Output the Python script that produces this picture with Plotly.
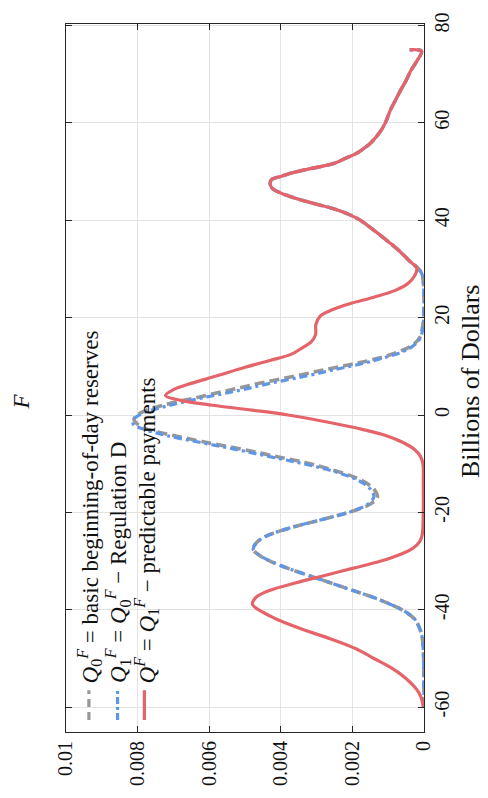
import plotly.graph_objects as go

# ---------------- data (density vs. billions of dollars) ----------------
# Shared upper tail (all three series coincide above ~30 bn)
billions_tail = [31.4, 32.7, 34.1, 35.5, 36.8, 38.5, 40, 41.2, 42.3, 43.3, 44.3, 45.3,
                 46.3, 47, 47.7, 48.4, 49, 49.7, 50.4, 51, 51.7, 52.7, 53.8, 54.8,
                 55.8, 57.8, 60, 62.6, 64.6, 66.6, 68.7, 70.7, 72.7, 74.7, 75.0]
density_tail = [0.00037, 0.00055, 0.00075, 0.00098, 0.0012, 0.0015, 0.00178, 0.0021,
                0.0025, 0.003, 0.0035, 0.0039, 0.0042, 0.00428, 0.0043, 0.00425, 0.0040,
                0.0037, 0.0033, 0.0029, 0.0025, 0.0022, 0.00187, 0.00167, 0.0015,
                0.00126, 0.00108, 0.00094, 0.0008, 0.00066, 0.0005, 0.00037, 0.0002,
                0.00007, 0.0004]

# Q^F = Q1^F - predictable payments (red)
billions_red = [-60, -58, -56.4, -54, -52, -50, -48, -46, -44, -42, -40.5, -38.9, -37.5,
                -36, -34.5, -33, -31.5, -30, -28.6, -27.3, -26, -24.6, -20, -14, -10,
                -8.5, -7, -5.6, -4.3, -3, -1.6, 0, 1, 2, 3, 4, 5.2, 6.5, 8, 9.8, 11.2,
                12.5, 13.8, 15, 16.5, 18.6, 20.3, 21.5, 22.8, 24.2, 25.6, 27, 28.5, 30.1]
density_red = [0.00002, 0.00008, 0.0002, 0.00052, 0.0009, 0.0014, 0.0019, 0.0026,
               0.0034, 0.0041, 0.0045, 0.00479, 0.0047, 0.0043, 0.0036, 0.0028, 0.0020,
               0.0012, 0.00065, 0.0003, 0.00012, 0.00005, 0.00002, 0.00002, 0.00003,
               0.0001, 0.00028, 0.0006, 0.00103, 0.0017, 0.0026, 0.0038, 0.0048, 0.0059,
               0.0068, 0.00722, 0.0070, 0.0065, 0.0058, 0.0050, 0.0043, 0.0037, 0.0034,
               0.00315, 0.00303, 0.00302, 0.0029, 0.0026, 0.0021, 0.0014, 0.0008,
               0.00045, 0.00027, 0.0002]

# Q1^F = Q0^F - Regulation D (blue)
billions_blue = [-60, -55, -50, -47, -45, -43.5, -42, -40.5, -39, -37.5, -36, -34.5,
                 -33, -31.5, -30, -28.8, -27.6, -26.4, -25.2, -24, -22.5, -21, -19.5,
                 -18.2, -16.8, -15.4, -14, -12.6, -11.2, -9.8, -8.4, -7, -5.6, -4.2,
                 -3, -1.9, -0.8, 0.5, 2, 3.5, 5, 6.5, 8, 9.4, 10.6, 11.8, 13, 14.2, 15.9,
                 18.6, 24, 27.4, 29, 30.1]
density_blue = [0, 0.000005, 0.00001, 0.00003, 0.00007, 0.00014, 0.00025, 0.0005,
                0.0009, 0.0014, 0.002, 0.0026, 0.0032, 0.0038, 0.0043, 0.0046, 0.00477,
                0.0047, 0.0045, 0.0041, 0.0034, 0.0026, 0.0019, 0.00155, 0.0014, 0.00148,
                0.0017, 0.0021, 0.0027, 0.0035, 0.0044, 0.0053, 0.00627, 0.0072, 0.0078,
                0.00812, 0.0081, 0.0078, 0.0071, 0.0062, 0.0052, 0.0043, 0.0033, 0.00245,
                0.0017, 0.0011, 0.0006, 0.0003, 0.0001, 0.00002, 0.0, 0.00002, 0.00006,
                0.00016]

# Q0^F = basic beginning-of-day reserves (gray)
billions_gray = [-60, -55, -50, -47, -45, -43.5, -42, -40.5, -39, -37.5, -36, -34.5,
                 -33, -31.5, -30, -28.8, -27.6, -26.4, -25.2, -24, -22.5, -21, -19.5,
                 -18.2, -16.8, -15.4, -14, -12.6, -11.2, -9.8, -8.4, -7, -5.6, -4.2,
                 -3, -1.9, -0.8, 0.5, 2, 3.5, 5, 6.5, 8, 9.4, 10.6, 11.8, 13, 14.2, 15.9,
                 18.6, 24, 27.4, 29, 30.1]
density_gray = [0, 0.000005, 0.00001, 0.00003, 0.00007, 0.00014, 0.00025, 0.0005,
                0.0009, 0.0014, 0.002, 0.0026, 0.0032, 0.0038, 0.0043, 0.0046, 0.00477,
                0.0047, 0.0045, 0.0041, 0.0034, 0.0026, 0.0019, 0.00148, 0.0013, 0.00138,
                0.0016, 0.002, 0.0026, 0.0033, 0.0042, 0.0051, 0.0061, 0.0070, 0.0077,
                0.0080, 0.0081, 0.0079, 0.0073, 0.0064, 0.0055, 0.0046, 0.0036, 0.0027,
                0.0019, 0.0012, 0.0007, 0.00035, 0.00012, 0.00003, 0.0, 0.00002, 0.00006,
                0.00016]

series_names = ["Q0 = basic beginning-of-day reserves",
                "Q1 = Q0 - Regulation D",
                "Q = Q1 - predictable payments"]
legend_labels = ["<i>Q</i><sub>0</sub><sup><i>F</i></sup> = basic beginning-of-day reserves",
                 "<i>Q</i><sub>1</sub><sup><i>F</i></sup> = <i>Q</i><sub>0</sub><sup><i>F</i></sup> − Regulation D",
                 "<i>Q</i><sup><i>F</i></sup> = <i>Q</i><sub>1</sub><sup><i>F</i></sup> − predictable payments"]

density_ticks = [0, 0.002, 0.004, 0.006, 0.008, 0.01]
density_ticktext = ["0", "0.002", "0.004", "0.006", "0.008", "0.01"]
billions_ticks = [-60, -40, -20, 0, 20, 40, 60, 80]
billions_ticktext = ["-60", "-40", "-20", "0", "20", "40", "60", "80"]

GRAY = "#979797"
BLUE = "#6096E6"
RED = "#E4646A"
FONT = "Liberation Serif"

fig = go.Figure()
fig.add_trace(go.Scatter(x=density_gray + density_tail, y=billions_gray + billions_tail,
                         mode="lines", name=series_names[0], showlegend=False,
                         line=dict(color=GRAY, width=3.6, dash="10px,5px",
                                   shape="spline", smoothing=1.0)))
fig.add_trace(go.Scatter(x=density_blue + density_tail, y=billions_blue + billions_tail,
                         mode="lines", name=series_names[1], showlegend=False,
                         line=dict(color=BLUE, width=3.2, dash="8px,4px,3px,4px",
                                   shape="spline", smoothing=1.0)))
fig.add_trace(go.Scatter(x=density_red + density_tail, y=billions_red + billions_tail,
                         mode="lines", name=series_names[2], showlegend=False,
                         line=dict(color=RED, width=3.2, shape="spline", smoothing=1.0)))

axis_common = dict(showgrid=True, gridcolor="#e3e3e3", gridwidth=1,
                   showline=True, linecolor="#262626", linewidth=1.2, mirror="ticks",
                   ticks="inside", ticklen=6, tickcolor="#262626", tickwidth=1.2,
                   zeroline=False, tickangle=-90,
                   tickfont=dict(family=FONT, size=20, color="#111111"))

fig.update_layout(
    width=488, height=798,
    margin=dict(l=66, r=64, t=17, b=66),
    paper_bgcolor="white", plot_bgcolor="white",
    xaxis=dict(range=[0.01, 0], tickvals=density_ticks, ticktext=density_ticktext,
               **axis_common),
    yaxis=dict(range=[-65.1, 80.3], side="right", tickvals=billions_ticks,
               ticktext=billions_ticktext, **axis_common),
    showlegend=False,
)

# Legend (rotated, like the reference)
legend_x_line = [0.064, 0.144, 0.219]
legend_x_text = [0.066, 0.146, 0.224]
legend_colors = [GRAY, BLUE, RED]
legend_dash = ["8px,5px", "7px,3px,3px,3px", "solid"]
for xl, xt, col, ds, lab in zip(legend_x_line, legend_x_text, legend_colors, legend_dash, legend_labels):
    fig.add_shape(type="line", xref="paper", yref="paper", x0=xl, x1=xl, y0=0.017, y1=0.059,
                  line=dict(color=col, width=3.2, dash=ds))
    fig.add_annotation(xref="paper", yref="paper", x=xt, y=0.066, text=lab, textangle=-90,
                       showarrow=False, xanchor="center", yanchor="bottom",
                       font=dict(family=FONT, size=23, color="#111111"))

fig.add_annotation(xref="paper", yref="paper", x=-0.125, y=0.467, text="<i>F</i>",
                   textangle=-90, showarrow=False, xanchor="center", yanchor="middle",
                   font=dict(family=FONT, size=23, color="#111111"))
fig.add_annotation(xref="paper", yref="paper", x=1.13, y=0.495, text="Billions of Dollars",
                   textangle=-90, showarrow=False, xanchor="center", yanchor="middle",
                   font=dict(family=FONT, size=26, color="#111111"))

fig.write_html("out.html")
